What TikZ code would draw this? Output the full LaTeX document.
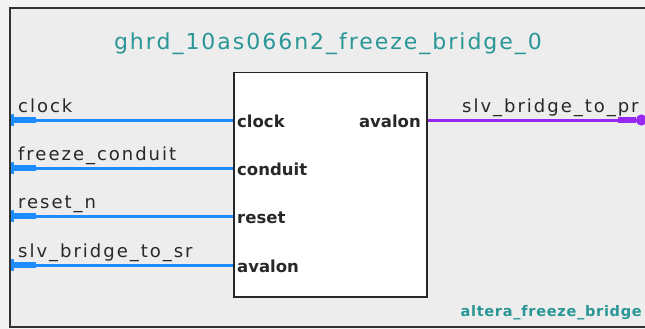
\documentclass[tikz,border=0pt]{standalone}
\usepackage{fontspec}
\setmainfont{DejaVu Sans}
\newfontfamily\wirefont[LetterSpace=11]{DejaVu Sans}
\newfontfamily\titlefont[LetterSpace=9]{DejaVu Sans}
\newfontfamily\kindfont[LetterSpace=5]{DejaVu Sans}
\usetikzlibrary{arrows.meta}
\definecolor{qbg}{RGB}{237,237,237}
\definecolor{qout}{RGB}{243,243,243}
\definecolor{qteal}{RGB}{42,150,150}
\definecolor{qblue}{RGB}{30,140,255}
\definecolor{qpurple}{RGB}{150,40,240}
\definecolor{qframe}{RGB}{50,50,50}
\definecolor{qtext}{RGB}{40,40,40}

\begin{document}
\begin{tikzpicture}[x=1pt,y=-1pt,
  wire/.style={line width=3pt,qblue,
    {Rectangle[length=3pt,width=12pt,sep=0pt,round]Rectangle[length=22pt,width=6.5pt,sep=0pt]}-},
  bus/.style={line width=3pt,qpurple,
    -{Rectangle[length=18pt,width=6.5pt,sep=0pt]Circle[length=11pt,sep=0pt]}},
  port/.style={inner sep=0,text=qtext,font=\bfseries\fontsize{16.5}{16.5}\selectfont},
  sig/.style={inner sep=0,anchor=base west,text=qtext,font=\wirefont\fontsize{18}{18}\selectfont}]
  \clip (0,0) rectangle (645,329);
  \fill[qout] (0,0) rectangle (645,329);
  \filldraw[fill=qbg,draw=qframe,line width=2pt] (10,8) rectangle (700,327);
  \node[inner sep=0,anchor=base,text=qteal,font=\titlefont\fontsize{22}{22}\selectfont] (title) at (328,49) {ghrd\_10as066n2\_freeze\_bridge\_0};
  \node[draw=black!85,fill=white,line width=1.5pt,inner sep=0,minimum width=193pt,minimum height=224pt,anchor=north west] (bridge) at (233,72) {};
  \node[port,anchor=base west] (pclock) at (237,127) {clock};
  \node[port,anchor=base west] (pconduit) at (237,175) {conduit};
  \node[port,anchor=base west] (preset) at (237,223) {reset};
  \node[port,anchor=base west] (pavalon) at (237,272) {avalon};
  \node[port,anchor=base east] (pout) at (421,127) {avalon};
  \node[sig] (lclock) at (18,112.5) {clock};
  \node[sig] (lconduit) at (18,160.5) {freeze\_conduit};
  \node[sig] (lreset) at (18,208.5) {reset\_n};
  \node[sig] (lavalon) at (18,257.5) {slv\_bridge\_to\_sr};
  \node[sig] (lout) at (462,112.5) {slv\_bridge\_to\_pr};
  \node[inner sep=0,anchor=base east,text=qteal,font=\kindfont\bfseries\fontsize{14.5}{14.5}\selectfont] (kind) at (642,316) {altera\_freeze\_bridge};
  \coordinate (eclock) at (11,120);
  \coordinate (econduit) at (11,168);
  \coordinate (ereset) at (11,216);
  \coordinate (eavalon) at (11,265);
  \coordinate (eout) at (647,120);
  \draw[wire] (eclock) -- (eclock -| bridge.west);
  \draw[wire] (econduit) -- (econduit -| bridge.west);
  \draw[wire] (ereset) -- (ereset -| bridge.west);
  \draw[wire] (eavalon) -- (eavalon -| bridge.west);
  \draw[bus] (eout -| bridge.east) -- (eout);
\end{tikzpicture}
\end{document}
